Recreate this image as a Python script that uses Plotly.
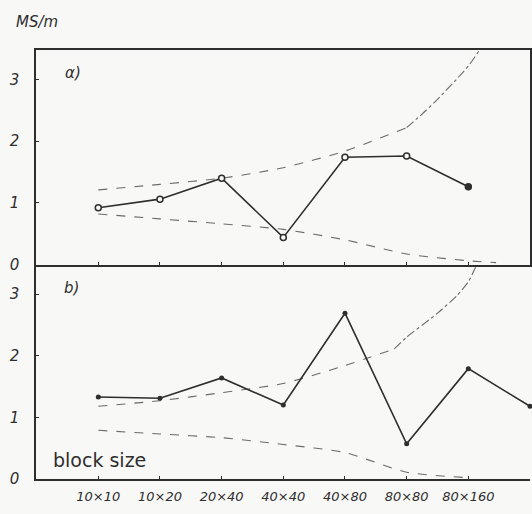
import plotly.graph_objects as go
from plotly.subplots import make_subplots

# ---- data ----
categories = ["10×10", "10×20", "20×40", "40×40", "40×80", "80×80", "80×160"]
cat_pos = [0, 1, 2, 3, 4, 5, 6]

# panel a) measured MS/m (open circles, last one filled)
a_pos = [0, 1, 2, 3, 4, 5, 6]
a_val = [0.92, 1.06, 1.40, 0.44, 1.74, 1.76, 1.26]

a_upper_pos = [0, 1, 2, 3, 4, 5]
a_upper = [1.21, 1.30, 1.40, 1.57, 1.84, 2.22]
a_upper_tail_pos = [5, 5.25, 5.5, 5.85, 6.0, 6.18, 6.4]
a_upper_tail = [2.22, 2.44, 2.68, 3.05, 3.22, 3.48, 3.95]
a_lower_pos = [0, 1, 2, 3, 4, 5, 6, 6.45]
a_lower = [0.82, 0.74, 0.66, 0.57, 0.40, 0.17, 0.06, 0.03]

# panel b) measured MS/m (filled dots)
b_pos = [0, 1, 2, 3, 4, 5, 6, 7]
b_val = [1.33, 1.31, 1.64, 1.20, 2.69, 0.57, 1.79, 1.18]

b_upper_pos = [0, 1, 2, 3, 4, 4.8]
b_upper = [1.18, 1.27, 1.40, 1.55, 1.84, 2.11]
b_upper_tail_pos = [4.8, 5.0, 5.5, 5.82, 6.0, 6.11, 6.35]
b_upper_tail = [2.11, 2.30, 2.69, 2.98, 3.20, 3.42, 3.95]
b_lower_pos = [0, 1, 2, 3, 4, 5, 6]
b_lower = [0.79, 0.73, 0.67, 0.56, 0.43, 0.11, 0.02]

INK = "#2e2e2e"
DASH = "#6a6a6a"
BG = "#f8f8f7"
FONT = "DejaVu Sans"

fig = make_subplots(rows=2, cols=1, shared_xaxes=True, vertical_spacing=0)

def env(x, y, row, dash):
    fig.add_trace(go.Scatter(x=x, y=y, mode="lines", line=dict(color=DASH, width=1.1, dash=dash, shape="spline", smoothing=0.6),
                             hoverinfo="skip", showlegend=False), row=row, col=1)

env(a_upper_pos, a_upper, 1, "dash")
env(a_upper_tail_pos, a_upper_tail, 1, "dashdot")
env(a_lower_pos, a_lower, 1, "dash")
env(b_upper_pos, b_upper, 2, "dash")
env(b_upper_tail_pos, b_upper_tail, 2, "dashdot")
env(b_lower_pos, b_lower, 2, "dash")

fig.add_trace(go.Scatter(
    x=a_pos, y=a_val, mode="lines+markers",
    line=dict(color=INK, width=1.6),
    marker=dict(size=6, color=[BG] * 6 + [INK], line=dict(color=INK, width=1.5)),
    showlegend=False, cliponaxis=False), row=1, col=1)

fig.add_trace(go.Scatter(
    x=b_pos, y=b_val, mode="lines+markers",
    line=dict(color=INK, width=1.6),
    marker=dict(size=5, color=INK),
    showlegend=False, cliponaxis=False), row=2, col=1)

xr = [-1.01, 7.0]
yr = [0, 3.48]

fig.update_xaxes(range=xr, tickvals=cat_pos, ticktext=categories, ticks="inside", ticklen=3,
                 tickcolor=INK, showgrid=False, zeroline=False, showline=True, linecolor=INK, linewidth=1.5)
fig.update_xaxes(showticklabels=False, mirror=True, row=1, col=1)
fig.update_xaxes(showticklabels=True, mirror=False, row=2, col=1,
                 tickfont=dict(family=FONT, size=13, color=INK, style="italic"), ticklabelstandoff=5)

fig.update_yaxes(range=yr, tickvals=[0, 1, 2, 3], ticktext=["0", "1", "2", "3"], ticks="inside", ticklen=3,
                 tickcolor=INK, showgrid=False, zeroline=False, showline=True, linecolor=INK, linewidth=1.5,
                 tickfont=dict(family=FONT, size=15, color=INK, style="italic"), ticklabelstandoff=12)
fig.update_yaxes(mirror=True, row=1, col=1)

fig.add_annotation(text="MS/m", xref="paper", yref="paper", x=-0.045, y=1.065, xanchor="left", yanchor="middle",
                   showarrow=False, font=dict(family=FONT, size=15, color=INK, style="italic"))
fig.add_annotation(text="α)", xref="paper", yref="paper", x=0.055, y=0.946, xanchor="left", yanchor="middle",
                   showarrow=False, font=dict(family=FONT, size=15, color=INK, style="italic"))
fig.add_annotation(text="b)", xref="paper", yref="paper", x=0.052, y=0.445, xanchor="left", yanchor="middle",
                   showarrow=False, font=dict(family=FONT, size=15, color=INK, style="italic"))
fig.add_annotation(text="block size", xref="paper", yref="paper", x=0.03, y=0.045, xanchor="left", yanchor="middle",
                   showarrow=False, font=dict(family=FONT, size=19, color=INK))

fig.update_layout(
    width=532, height=514,
    margin=dict(l=36, r=0, t=50, b=35),
    paper_bgcolor=BG, plot_bgcolor=BG,
    showlegend=False,
)

fig.write_html("out.html", config={"displayModeBar": False},
               post_script="document.body.style.margin='0';document.body.style.overflow='hidden';")
